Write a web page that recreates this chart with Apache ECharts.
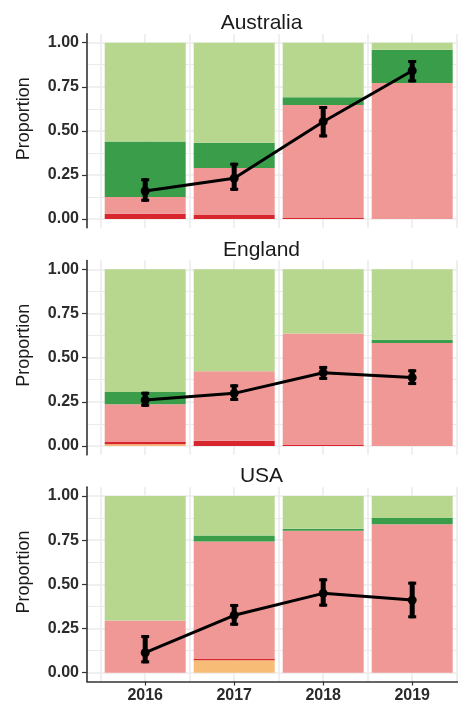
<!DOCTYPE html>
<html>
<head>
<meta charset="utf-8">
<script src="https://cdn.jsdelivr.net/npm/echarts@6/dist/echarts.min.js"></script>
<style>
html,body{margin:0;padding:0;background:#fff;}
#chart{width:458px;height:703px;}
</style>
</head>
<body>
<div id="chart"></div>
<script>
// ---------- DATA ----------
var years = ['2016', '2017', '2018', '2019'];
var countries = ['Australia', 'England', 'USA'];
var yTicks = [0, 0.25, 0.5, 0.75, 1];

// stacked proportions, bottom to top: orange, red, pink, dark green, light green
var ausOrange = [0, 0, 0, 0];
var ausRed    = [0.030, 0.022, 0.005, 0];
var ausPink   = [0.095, 0.267, 0.642, 0.771];
var ausDkGreen= [0.315, 0.144, 0.043, 0.189];
var ausLtGreen= [0.560, 0.567, 0.310, 0.040];
var ausMean   = [0.159, 0.231, 0.552, 0.841];
var ausLow    = [0.098, 0.160, 0.463, 0.775];
var ausHigh   = [0.231, 0.319, 0.641, 0.902];

var engOrange = [0.010, 0, 0, 0];
var engRed    = [0.013, 0.030, 0.006, 0];
var engPink   = [0.213, 0.393, 0.630, 0.583];
var engDkGreen= [0.070, 0, 0, 0.019];
var engLtGreen= [0.694, 0.577, 0.364, 0.398];
var engMean   = [0.260, 0.298, 0.415, 0.387];
var engLow    = [0.222, 0.255, 0.374, 0.345];
var engHigh   = [0.307, 0.349, 0.453, 0.434];

var usaOrange = [0, 0.070, 0, 0];
var usaRed    = [0, 0.007, 0, 0];
var usaPink   = [0.296, 0.665, 0.804, 0.840];
var usaDkGreen= [0, 0.034, 0.010, 0.036];
var usaLtGreen= [0.704, 0.224, 0.186, 0.124];
var usaMean   = [0.113, 0.325, 0.449, 0.411];
var usaLow    = [0.053, 0.266, 0.374, 0.308];
var usaHigh   = [0.213, 0.389, 0.534, 0.515];

// ---------- BUILD ----------
var panels = [
  {name: countries[0], layers: [ausOrange, ausRed, ausPink, ausDkGreen, ausLtGreen], mean: ausMean, low: ausLow, high: ausHigh},
  {name: countries[1], layers: [engOrange, engRed, engPink, engDkGreen, engLtGreen], mean: engMean, low: engLow, high: engHigh},
  {name: countries[2], layers: [usaOrange, usaRed, usaPink, usaDkGreen, usaLtGreen], mean: usaMean, low: usaLow, high: usaHigh}
];
var layerColors = ['#f7bd77', '#d8262e', '#f09896', '#3a9d4a', '#b7d78f'];

var FONT = 'Liberation Sans, Arial, Helvetica, sans-serif';
var y1 = [42.7, 269.3, 496];   // pixel of 1.00
var y0 = [219, 446, 672.7];    // pixel of 0.00
var EXP = 0.05;
var GRID_COLOR = '#ebebeb';

var grid = [], xAxis = [], yAxis = [], series = [], title = [], graphic = [];

panels.forEach(function (p, i) {
  var h = y0[i] - y1[i];
  var eTop = y1[i] - h * EXP;
  var eH = h * (1 + 2 * EXP);
  var last = (i === panels.length - 1);

  grid.push({left: 87, right: 0, top: y1[i], height: h, outerBoundsMode: 'none'});
  grid.push({left: 100.7, right: 1.3, top: eTop, height: eH, outerBoundsMode: 'none'});
  grid.push({left: 87, right: 0, top: eTop, height: eH, outerBoundsMode: 'none'});

  var gH = 3 * i, gV = 3 * i + 1, gF = 3 * i + 2;

  xAxis.push({gridIndex: gH, type: 'value', min: 0, max: 1, show: false});
  xAxis.push({gridIndex: gV, type: 'value', min: 0.5, max: 4.5, interval: 0.5,
    axisLine: {show: false, onZero: false}, axisTick: {show: false}, axisLabel: {show: false},
    splitLine: {show: true, lineStyle: {color: GRID_COLOR, width: 1.6}}});
  xAxis.push({gridIndex: gV, type: 'category', data: years, boundaryGap: true, position: 'bottom',
    axisLine: {show: false, onZero: false},
    axisTick: {show: last, alignWithLabel: true, length: 4, lineStyle: {color: '#333', width: 1.2}},
    axisLabel: {show: last, margin: 6, fontFamily: FONT, fontSize: 16, fontWeight: 'bold', color: '#2b2b2b'},
    splitLine: {show: false}});
  xAxis.push({gridIndex: gF, type: 'value', min: 0, max: 1, show: last,
    axisLine: {show: true, onZero: false, lineStyle: {color: '#333', width: 1.6}},
    axisTick: {show: false}, axisLabel: {show: false}, splitLine: {show: false}});

  yAxis.push({gridIndex: gH, type: 'value', min: yTicks[0], max: yTicks[yTicks.length - 1], interval: yTicks[1] - yTicks[0],
    axisLine: {show: false},
    axisTick: {show: true, length: 5, lineStyle: {color: '#333', width: 1.2}},
    minorTick: {show: false, splitNumber: 2},
    minorSplitLine: {show: true, lineStyle: {color: GRID_COLOR, width: 1.2}},
    splitLine: {show: true, lineStyle: {color: GRID_COLOR, width: 1.6}},
    axisLabel: {margin: 8, fontFamily: FONT, fontSize: 16, fontWeight: 'bold', color: '#2b2b2b',
      formatter: function (v) { return v.toFixed(2); }}});
  yAxis.push({gridIndex: gV, type: 'value', min: -EXP, max: 1 + EXP, show: false});
  yAxis.push({gridIndex: gF, type: 'value', min: 0, max: 1,
    axisLine: {show: true, onZero: false, lineStyle: {color: '#333', width: 1.6}},
    axisTick: {show: false}, axisLabel: {show: false}, splitLine: {show: false}});

  var xi = 4 * i + 2, yi = 3 * i + 1;
  p.layers.forEach(function (arr, k) {
    series.push({type: 'bar', xAxisIndex: xi, yAxisIndex: yi, stack: 'st' + i,
      barCategoryGap: '9%', data: arr, itemStyle: {color: layerColors[k]},
      silent: true, animation: false, z: 2});
  });
  series.push({type: 'custom', xAxisIndex: xi, yAxisIndex: yi, animation: false, silent: true, z: 5,
    data: years.map(function (y, j) { return [j, p.low[j], p.high[j]]; }),
    renderItem: function (params, api) {
      var lo = api.coord([api.value(0), api.value(1)]);
      var hi = api.coord([api.value(0), api.value(2)]);
      var w = 5, cw = 8, ch = 3;
      return {type: 'group', children: [
        {type: 'rect', shape: {x: lo[0] - w / 2, y: hi[1], width: w, height: lo[1] - hi[1]}, style: {fill: '#000'}},
        {type: 'rect', shape: {x: lo[0] - cw / 2, y: hi[1], width: cw, height: ch}, style: {fill: '#000'}},
        {type: 'rect', shape: {x: lo[0] - cw / 2, y: lo[1] - ch, width: cw, height: ch}, style: {fill: '#000'}}
      ]};
    }});
  series.push({type: 'line', xAxisIndex: xi, yAxisIndex: yi, data: p.mean, z: 6,
    symbol: 'circle', symbolSize: 9, itemStyle: {color: '#000'},
    lineStyle: {color: '#000', width: 3}, animation: false, silent: true});

  title.push({text: p.name, left: 256.5, textAlign: 'center', top: y1[i] - 35,
    textStyle: {fontFamily: FONT, fontSize: 21, fontWeight: 'normal', color: '#1a1a1a'}});

  graphic.push({type: 'text', x: 24, y: y1[i] + 76, rotation: Math.PI / 2,
    style: {text: 'Proportion', font: 'normal 18px ' + FONT, fill: '#1a1a1a',
      textAlign: 'center', textVerticalAlign: 'middle'}});
});

var chart = echarts.init(document.getElementById('chart'), null, {renderer: 'canvas'});
chart.setOption({
  backgroundColor: '#fff',
  animation: false,
  title: title,
  grid: grid,
  xAxis: xAxis,
  yAxis: yAxis,
  series: series,
  graphic: graphic
});
</script>
</body>
</html>
